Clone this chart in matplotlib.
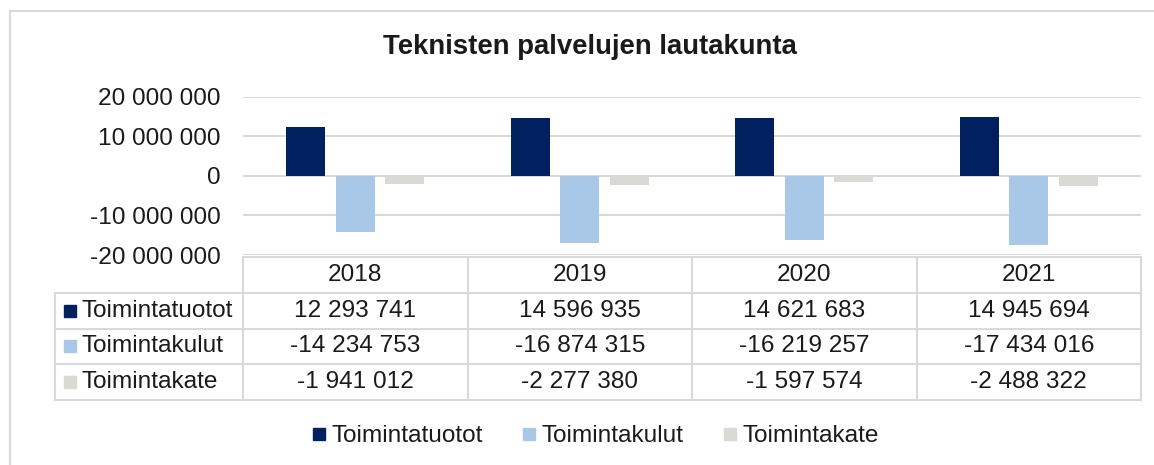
import matplotlib

matplotlib.use("Agg")
import matplotlib.pyplot as plt
from matplotlib.lines import Line2D
from matplotlib.ticker import FuncFormatter

plt.rcParams["font.family"] = ["Liberation Sans", "DejaVu Sans"]

YEARS = ["2018", "2019", "2020", "2021"]
SERIES = ["Toimintatuotot", "Toimintakulut", "Toimintakate"]
TUOTOT = [12293741, 14596935, 14621683, 14945694]
KULUT = [-14234753, -16874315, -16219257, -17434016]
KATE = [-1941012, -2277380, -1597574, -2488322]
YTICKS = [-20000000, -10000000, 0, 10000000, 20000000]

COLORS = ["#002060", "#A9C8E8", "#D9D9D6"]
GRID = "#D9D9D9"
TEXT = "#1a1a1a"
FS = 17.6


def fmt(v):
    return f"{int(round(v)):,}".replace(",", " ")


W, H = 1154, 465
fig = plt.figure(figsize=(W / 100, H / 100), dpi=100)


def box(left, top, right, bottom):
    return [left / W, 1 - bottom / H, (right - left) / W, (bottom - top) / H]


# outer chart border (left and top only are visible)
fig.add_artist(Line2D([10 / W, 10 / W], [0, 1 - 11 / H], color=GRID, lw=1.5))
fig.add_artist(Line2D([10 / W, 1], [1 - 11 / H, 1 - 11 / H], color=GRID, lw=1.5))

fig.text(590 / W, 1 - 47 / H, "Teknisten palvelujen lautakunta",
         ha="center", va="center", fontsize=19.8, fontweight="bold", color=TEXT)

# bars
ax = fig.add_axes(box(243, 97, 1141, 255))
x = list(range(len(YEARS)))
offsets = [-0.22, 0.0, 0.22]
for vals, off, c in zip([TUOTOT, KULUT, KATE], offsets, COLORS):
    ax.bar([i + off for i in x], vals, width=0.174, color=c, zorder=3)
ax.set_xlim(-0.5, len(YEARS) - 0.5)
ax.set_ylim(-20000000, 20000000)
ax.set_yticks(YTICKS)
ax.yaxis.set_major_formatter(FuncFormatter(lambda v, p: fmt(v)))
ax.tick_params(axis="y", length=0, pad=16, labelsize=FS, labelcolor=TEXT)
ax.set_xticks([])
ax.grid(axis="y", color=GRID, lw=1.5, zorder=0)
for s in ax.spines.values():
    s.set_visible(False)

# data table
tx = fig.add_axes(box(55, 257, 1141, 400))
left = -0.5 - 188 / 224.5
tx.set_xlim(left, len(YEARS) - 0.5)
tx.set_ylim(4, 0)
tx.axis("off")
kw = dict(color=GRID, lw=1.5, clip_on=False)
# horizontal lines
tx.plot([-0.5, len(YEARS) - 0.5], [0, 0], **kw)
for r in range(1, 5):
    tx.plot([left, len(YEARS) - 0.5], [r, r], **kw)
# vertical lines
tx.plot([left, left], [1, 4], **kw)
for c in range(len(YEARS) + 1):
    tx.plot([c - 0.5, c - 0.5], [0, 4], **kw)

for i, yr in enumerate(YEARS):
    tx.text(i, 0.5, yr, ha="center", va="center", fontsize=FS, color=TEXT)
for r, (name, vals, c) in enumerate(zip(SERIES, [TUOTOT, KULUT, KATE], COLORS)):
    yy = r + 1.5
    tx.plot([left + 15 / 224.5], [yy], marker="s", ms=8.5, color=c, clip_on=False)
    tx.text(left + 26 / 224.5, yy, name, ha="left", va="center", fontsize=FS, color=TEXT)
    for i, v in enumerate(vals):
        tx.text(i, yy, fmt(v), ha="center", va="center", fontsize=FS, color=TEXT)

handles = [Line2D([], [], marker="s", ls="", color=c, ms=9) for c in COLORS]
fig.legend(handles, SERIES, loc="center", bbox_to_anchor=(594 / W, 1 - 436 / H),
           ncol=3, frameon=False, fontsize=FS, handletextpad=0.1,
           columnspacing=1.5, handlelength=0.8, labelcolor=TEXT)

fig.savefig("out.png", dpi=100, facecolor="white")
